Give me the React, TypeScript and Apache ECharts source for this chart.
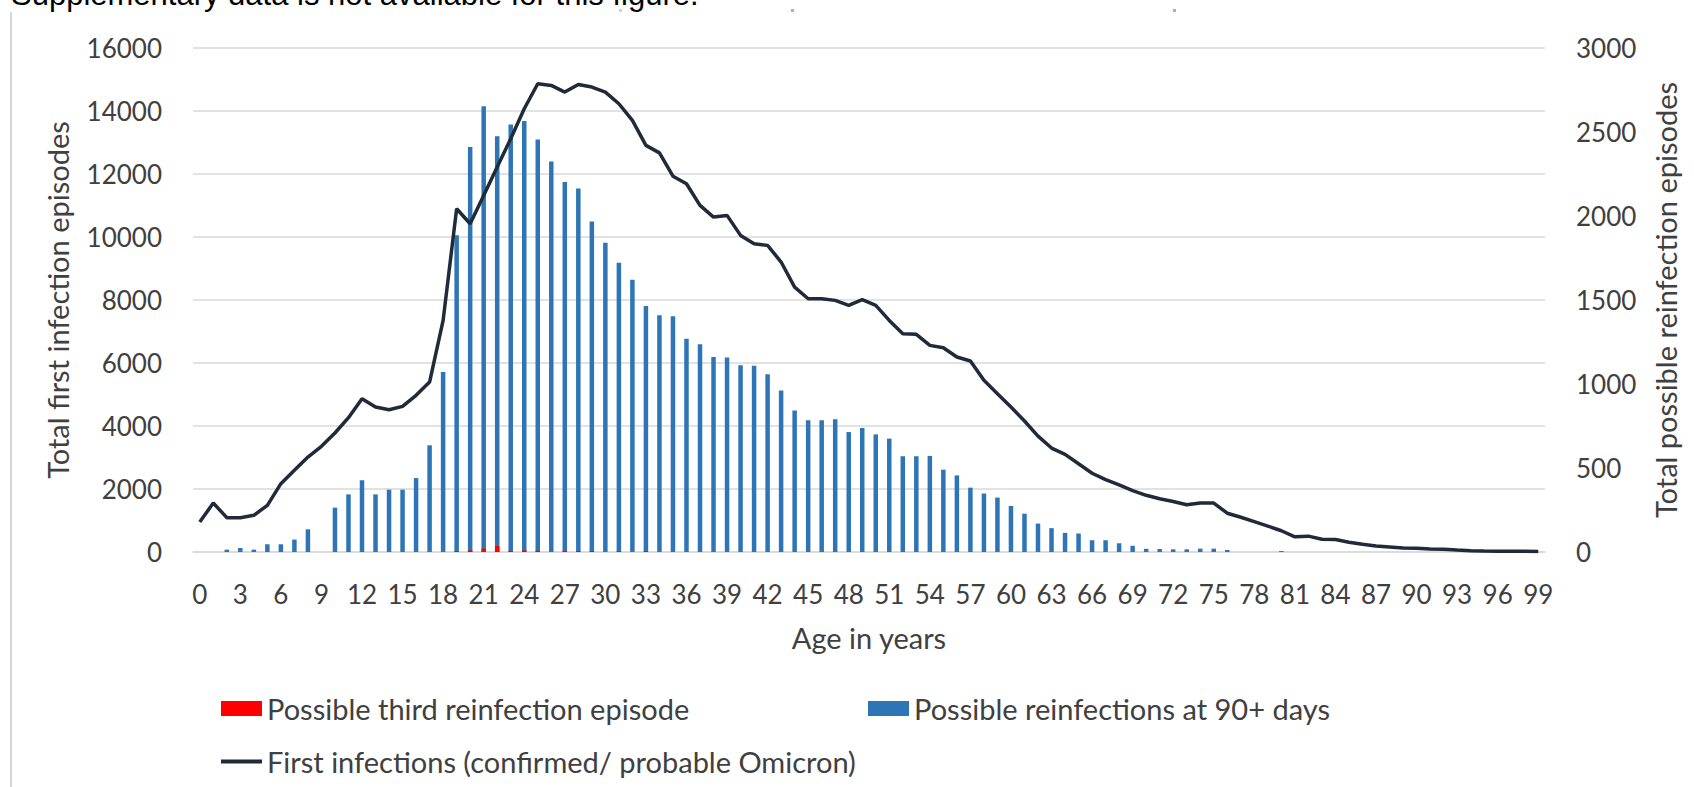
import React, { useEffect, useRef } from "react";
import * as echarts from "echarts";

const ages = [
  "0","1","2","3","4","5","6","7","8","9","10","11","12","13","14","15","16","17","18","19",
  "20","21","22","23","24","25","26","27","28","29","30","31","32","33","34","35","36","37","38","39",
  "40","41","42","43","44","45","46","47","48","49","50","51","52","53","54","55","56","57","58","59",
  "60","61","62","63","64","65","66","67","68","69","70","71","72","73","74","75","76","77","78","79",
  "80","81","82","83","84","85","86","87","88","89","90","91","92","93","94","95","96","97","98","99",
];

// Possible reinfections at 90+ days (right axis)
const reinfections90 = [
  0, 0, 14, 24, 14, 46, 46, 74, 135, 0,
  264, 343, 427, 343, 371, 371, 440, 635, 1071, 1885,
  2411, 2653, 2474, 2544, 2565, 2456, 2325, 2202, 2163, 1968,
  1841, 1722, 1621, 1464, 1409, 1403, 1270, 1236, 1161, 1157,
  1111, 1109, 1058, 962, 843, 784, 784, 790, 714, 738,
  700, 675, 570, 570, 572, 490, 456, 383, 348, 324,
  274, 228, 169, 142, 114, 110, 70, 70, 52, 37,
  19, 18, 16, 16, 20, 20, 12, 0, 0, 0,
  6, 0, 0, 0, 0, 0, 0, 0, 0, 0,
  0, 0, 0, 0, 0, 0, 0, 0, 0, 0,
];

// Possible third reinfection episode (right axis)
const thirdReinfection = [
  0, 0, 0, 0, 0, 0, 0, 0, 0, 0,
  0, 0, 0, 0, 0, 0, 0, 0, 0, 6,
  10, 20, 36, 8, 10, 8, 0, 8, 6, 5,
  0, 5, 0, 5, 0, 0, 0, 0, 0, 0,
  0, 0, 0, 0, 0, 0, 0, 0, 0, 0,
  0, 0, 0, 0, 0, 0, 0, 0, 0, 0,
  0, 0, 0, 0, 0, 0, 0, 0, 0, 0,
  0, 0, 0, 0, 0, 0, 0, 0, 0, 0,
  0, 0, 0, 0, 0, 0, 0, 0, 0, 0,
  0, 0, 0, 0, 0, 0, 0, 0, 0, 0,
];

// First infections (confirmed/ probable Omicron) (left axis)
const firstInfections = [
  952, 1555, 1090, 1090, 1164, 1481, 2169, 2592, 3015, 3354,
  3777, 4264, 4867, 4602, 4518, 4623, 4973, 5396, 7353, 10897,
  10421, 11321, 12220, 13119, 14071, 14865, 14812, 14600, 14844, 14760,
  14600, 14230, 13701, 12908, 12670, 11930, 11691, 11003, 10633, 10686,
  10051, 9787, 9734, 9205, 8411, 8041, 8041, 7988, 7829, 8009,
  7829, 7353, 6930, 6909, 6560, 6486, 6189, 6062, 5449, 5026,
  4602, 4158, 3680, 3300, 3100, 2800, 2500, 2300, 2130, 1950,
  1800, 1690, 1605, 1500, 1552, 1552, 1231, 1102, 963, 824,
  674, 482, 503, 407, 396, 310, 246, 193, 161, 128,
  118, 96, 86, 64, 43, 32, 22, 20, 20, 18,
];

const leftTicks = [0, 2000, 4000, 6000, 8000, 10000, 12000, 14000, 16000];
const rightTicks = [0, 500, 1000, 1500, 2000, 2500, 3000];

const seriesNames = {
  third: "Possible third reinfection episode",
  reinf: "Possible reinfections at 90+ days",
  first: "First infections (confirmed/ probable Omicron)",
};

const FONT = "Lato";
const TXT = "#404040";
const FS_NUM = 26;
const FS_TXT = 29;
const LINE_COLOR = "#1F2A3A";

export default function App() {
  const ref = useRef<HTMLDivElement>(null);

  useEffect(() => {
    if (!ref.current) return;
    const chart = echarts.init(ref.current, null, { renderer: "svg" });
    const legendText = { color: TXT, fontSize: FS_TXT, fontFamily: FONT };
    const plain = (v: number) => String(v);
    const option: any = {
      animation: false,
      backgroundColor: "#ffffff",
      textStyle: { fontFamily: FONT },
      grid: { left: 193, right: 149, top: 48, bottom: 235, containLabel: false },
      xAxis: {
        type: "category",
        data: ages,
        boundaryGap: true,
        axisLine: { show: true, lineStyle: { color: "#D9D9D9", width: 1.5 } },
        axisTick: { show: false },
        axisLabel: { interval: 2, color: TXT, fontSize: FS_NUM, fontFamily: FONT, margin: 29 },
        name: "Age in years",
        nameLocation: "middle",
        nameGap: 71,
        nameTextStyle: { color: TXT, fontSize: FS_TXT, fontFamily: FONT },
      },
      yAxis: [
        {
          type: "value",
          position: "left",
          min: leftTicks[0],
          max: leftTicks[leftTicks.length - 1],
          interval: leftTicks[1] - leftTicks[0],
          axisLine: { show: false },
          axisTick: { show: false },
          axisLabel: { color: TXT, fontSize: FS_NUM, fontFamily: FONT, margin: 31, formatter: plain },
          splitLine: { show: true, lineStyle: { color: "#D9D9D9", width: 1.6 } },
          name: "Total first infection episodes",
          nameLocation: "middle",
          nameRotate: 90,
          nameGap: 121,
          nameTextStyle: { color: TXT, fontSize: FS_TXT, fontFamily: FONT },
        },
        {
          type: "value",
          position: "right",
          min: rightTicks[0],
          max: rightTicks[rightTicks.length - 1],
          interval: rightTicks[1] - rightTicks[0],
          axisLine: { show: false },
          axisTick: { show: false },
          axisLabel: { color: TXT, fontSize: FS_NUM, fontFamily: FONT, margin: 31, formatter: plain },
          splitLine: { show: false },
          name: "Total possible reinfection episodes",
          nameLocation: "middle",
          nameRotate: 90,
          nameGap: 106,
          nameTextStyle: { color: TXT, fontSize: FS_TXT, fontFamily: FONT },
        },
      ],
      legend: [
        {
          data: [seriesNames.third],
          left: 221,
          top: 694,
          padding: 0,
          itemWidth: 41,
          itemHeight: 15,
          icon: "rect",
          selectedMode: false,
          textStyle: legendText,
        },
        {
          data: [seriesNames.reinf],
          left: 868,
          top: 694,
          padding: 0,
          itemWidth: 41,
          itemHeight: 15,
          icon: "rect",
          selectedMode: false,
          textStyle: legendText,
        },
        {
          data: [seriesNames.first],
          left: 221,
          top: 747,
          padding: 0,
          itemWidth: 41,
          itemHeight: 4,
          icon: "rect",
          selectedMode: false,
          textStyle: legendText,
        },
      ],
      graphic: [
        {
          type: "text",
          left: 11,
          top: -21,
          style: {
            text: "Supplementary data is not available for this figure.",
            fontFamily: "Liberation Sans",
            fontSize: 31,
            fill: "#000000",
          },
        },
        {
          type: "line",
          shape: { x1: 11, y1: 12, x2: 11, y2: 787 },
          style: { stroke: "#D6D6D6", lineWidth: 2 },
        },
        { type: "rect", shape: { x: 619, y: 9, width: 3, height: 3 }, style: { fill: "#D0D0D0" } },
        { type: "rect", shape: { x: 791, y: 9, width: 3, height: 3 }, style: { fill: "#B0B0B0" } },
        { type: "rect", shape: { x: 1173, y: 9, width: 3, height: 3 }, style: { fill: "#B0B0B0" } },
      ],
      series: [
        {
          name: seriesNames.reinf,
          type: "bar",
          yAxisIndex: 1,
          data: reinfections90,
          barWidth: 4.5,
          barGap: "-100%",
          itemStyle: { color: "#2E75B6" },
          z: 2,
        },
        {
          name: seriesNames.third,
          type: "bar",
          yAxisIndex: 1,
          data: thirdReinfection,
          barWidth: 4.5,
          barGap: "-100%",
          itemStyle: { color: "#FF0000" },
          z: 3,
        },
        {
          name: seriesNames.first,
          type: "line",
          yAxisIndex: 0,
          data: firstInfections,
          symbol: "none",
          showSymbol: false,
          lineStyle: { color: LINE_COLOR, width: 3.5 },
          itemStyle: { color: LINE_COLOR },
          z: 4,
        },
      ],
    };
    chart.setOption(option);
    return () => chart.dispose();
  }, []);

  return (
    <div
      ref={ref}
      style={{ position: "fixed", left: 0, top: 0, width: 1694, height: 787 }}
    />
  );
}
